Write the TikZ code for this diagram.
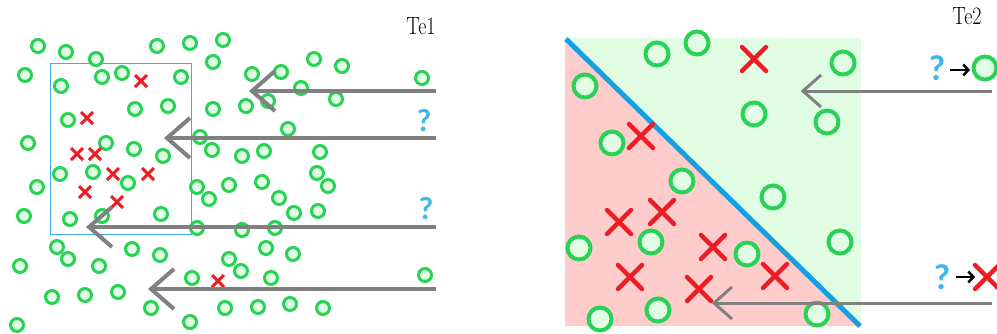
\documentclass[tikz,border=0pt]{standalone}
\usepackage{fontspec}
\newfontfamily\qfont{Carlito}
\usetikzlibrary{arrows.meta}
\definecolor{ringgreen}{RGB}{40,210,85}
\definecolor{ringfill}{RGB}{225,252,228}
\definecolor{zonegreen}{RGB}{224,253,228}
\definecolor{zonepink}{RGB}{255,204,204}
\definecolor{crossred}{RGB}{236,28,36}
\definecolor{splitblue}{RGB}{20,160,225}
\definecolor{boxblue}{RGB}{60,170,235}
\definecolor{qblue}{RGB}{60,185,235}
\definecolor{guide}{RGB}{128,128,128}
\tikzset{
  smallring/.style={draw=ringgreen,fill=ringfill,line width=3pt},
  bigring/.style={draw=ringgreen,fill=ringfill,line width=4pt},
  smallcross/.style={draw=crossred,line width=3pt},
  bigcross/.style={draw=crossred,line width=4.5pt,line cap=round},
  guideline/.style={draw=guide,line width=4pt},
  thinguide/.style={draw=guide,line width=3pt},
  qmark/.style={text=qblue,font=\qfont\bfseries\fontsize{32}{32}\selectfont,inner sep=0pt},
  bigqmark/.style={text=qblue,font=\qfont\bfseries\fontsize{36}{36}\selectfont,inner sep=0pt},
  tag/.style={font=\fontsize{20}{20}\selectfont,inner sep=0pt,yscale=1.25,transform shape},
  pointer/.style={draw=black,line width=2.5pt,-{Straight Barb[length=5pt,width=11pt]}}
}
\begin{document}
\begin{tikzpicture}[x=1pt,y=-1pt]
\useasboundingbox (0,0) rectangle (997,333);

% ---------- left panel: scattered samples ----------
\node[draw=boxblue,line width=1.2pt,inner sep=0pt,minimum width=141pt,minimum height=171pt,anchor=north west] (box) at (50,63) {};

\foreach \p in {(38,46),(66,52),(96,59),(157,46),(190,43),(223,40),(213,62),(25,75),(102,77),(122,73),
  (181,77),(61,86),(252,74),(135,109),(168,106),(213,109),(246,106),(68,120),(28,143),(106,143),
  (134,149),(163,156),(200,137),(212,150),(242,156),(281,72),(314,59),(342,66),(301,88),(268,101),
  (336,99),(422,78),(288,129),(264,151),(320,152),(60,174),(93,172),(37,187),(128,183),(197,187),
  (209,199),(229,185),(24,216),(70,219),(102,216),(161,214),(197,228),(242,230),(57,247),(68,259),
  (132,249),(160,255),(20,266),(99,266),(229,259),(241,271),(192,278),(52,297),(85,295),(118,292),
  (151,308),(225,308),(190,322),(17,325),(317,173),(328,186),(262,182),(279,198),(294,213),(318,211),
  (275,228),(266,248),(293,254),(271,278),(425,275),(258,307),(290,304),(323,308)}
  \draw[smallring] \p circle[radius=6.5pt];

\foreach \p in {(141,81),(87,118),(77,154),(95,154),(113,174),(148,174),(85,192),(117,202),(218,281)}
  \draw[smallcross] \p ++(-6,-6) -- ++(12,12) \p ++(-6,6) -- ++(12,-12);

\node[tag] (te1) at (421,26) {Te1};
\node[qmark] (q1) at (424,121) {?};
\node[qmark] (q2) at (426,209) {?};

% query arrows
\coordinate (a1s) at (436,91);  \coordinate (a1t) at (252,91);
\coordinate (a2s) at (436,138); \coordinate (a2t) at (167,138);
\coordinate (a3s) at (436,227); \coordinate (a3t) at (89,227);
\coordinate (a4s) at (436,289); \coordinate (a4t) at (151,289);
\foreach \s/\t in {a1s/a1t,a2s/a2t,a3s/a3t,a4s/a4t}{
  \draw[guideline] (\s) -- (\t);
  \draw[guideline] ([shift={(23,-20)}]\t) -- (\t) -- ([shift={(23,20)}]\t);
}

% ---------- right panel: split into two regions ----------
\fill[zonegreen] (565,38) rectangle (861,326);
\fill[zonepink] (565,38) -- (565,326) -- (861,326) -- cycle;
\coordinate (d1) at (566,39);
\coordinate (d2) at (860,326);
\draw[splitblue,line width=5pt] (d1) -- (d2);

\foreach \p in {(657,54),(697,43),(585,86),(754,114),(612,143),(682,181),(843,63),(827,122),
  (773,197),(579,248),(651,242),(747,254),(658,310),(600,319),(840,242),(817,314),(985,68)}
  \draw[bigring] \p circle[radius=11.5pt];

\foreach \p in {(754,59),(641,136),(619,222),(662,212),(713,247),(630,277),(699,289),(775,276),(987,277)}
  \draw[bigcross] \p ++(-12,-12) -- ++(24,24) \p ++(-12,12) -- ++(24,-24);

\node[tag] (te2) at (967,16) {Te2};
\node[bigqmark] (q3) at (937,68) {?};
\node[bigqmark] (q4) at (942,277) {?};
\coordinate (p1s) at (950,70); \coordinate (p1t) at (970,70);
\coordinate (p2s) at (956,277); \coordinate (p2t) at (975,277);
\draw[pointer] (p1s) -- (p1t);
\draw[pointer] (p2s) -- (p2t);

\coordinate (a5s) at (992,91);  \coordinate (a5t) at (803,91);
\coordinate (a6s) at (992,303); \coordinate (a6t) at (714,303);
\foreach \s/\t in {a5s/a5t,a6s/a6t}{
  \draw[thinguide] (\s) -- (\t);
  \draw[thinguide] ([shift={(18,-16)}]\t) -- (\t) -- ([shift={(18,16)}]\t);
}
\end{tikzpicture}
\end{document}
